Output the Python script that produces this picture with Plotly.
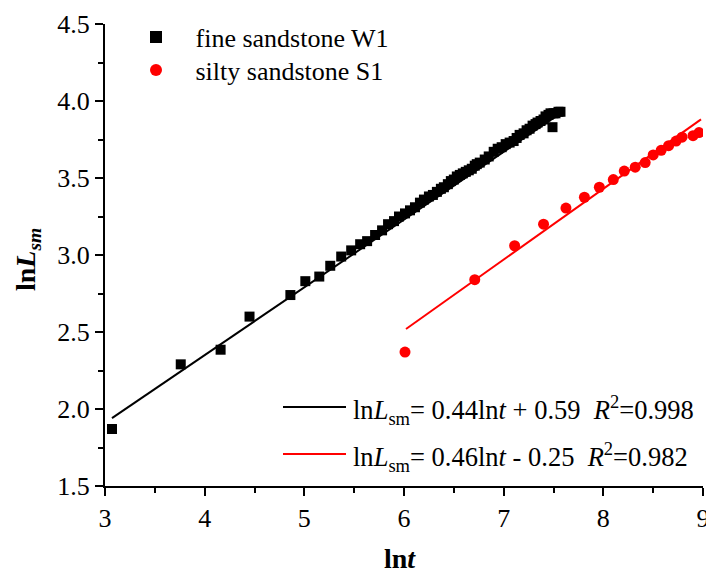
import plotly.graph_objects as go

# ---- data ----
x_w1 = [3.07, 3.76, 4.16, 4.45, 4.86, 5.01, 5.15, 5.26, 5.37, 5.47, 5.56,
        5.63, 5.71, 5.78, 5.84, 5.90, 5.95, 6.01, 6.06, 6.11, 6.16, 6.20,
        6.25, 6.29, 6.33, 6.37, 6.40, 6.44, 6.47, 6.50, 6.53, 6.56, 6.59,
        6.62, 6.65, 6.68, 6.71, 6.73, 6.76, 6.81, 6.85, 6.90, 6.94, 6.98,
        7.02, 7.06, 7.10, 7.13, 7.16, 7.20, 7.23, 7.26, 7.29, 7.32, 7.34,
        7.37, 7.40, 7.42, 7.45, 7.47, 7.49, 7.50, 7.52, 7.55, 7.57]
y_w1 = [1.87, 2.29, 2.385, 2.60, 2.74, 2.83, 2.86, 2.93, 2.99, 3.03, 3.07,
        3.09, 3.13, 3.16, 3.20, 3.22, 3.25, 3.27, 3.29, 3.31, 3.34, 3.36,
        3.38, 3.39, 3.41, 3.43, 3.44, 3.46, 3.48, 3.49, 3.51, 3.52, 3.53,
        3.54, 3.55, 3.56, 3.58, 3.59, 3.60, 3.62, 3.64, 3.67, 3.69, 3.70,
        3.72, 3.73, 3.74, 3.76, 3.78, 3.79, 3.81, 3.82, 3.84, 3.85, 3.86,
        3.87, 3.88, 3.90, 3.91, 3.92, 3.83, 3.92, 3.92, 3.93, 3.93]

x_s1 = [6.01, 6.71, 7.11, 7.40, 7.625, 7.81, 7.96, 8.10, 8.21, 8.32, 8.42,
        8.50, 8.58, 8.655, 8.73, 8.79, 8.90, 8.96]
y_s1 = [2.37, 2.84, 3.06, 3.20, 3.305, 3.375, 3.44, 3.49, 3.545, 3.57, 3.60,
        3.65, 3.68, 3.71, 3.74, 3.765, 3.775, 3.795]

# linear fits: ln L = a * ln t + b
fit_w1 = {"a": 0.44, "b": 0.59, "x": [3.07, 7.55]}
fit_s1 = {"a": 0.46, "b": -0.25, "x": [6.02, 8.98]}

eq_w1 = "ln<i>L</i><sub>sm</sub>= 0.44ln<i>t</i> + 0.59\u00a0\u00a0<i>R</i><sup>2</sup>=0.998"
eq_s1 = "ln<i>L</i><sub>sm</sub>= 0.46ln<i>t</i> - 0.25\u00a0\u00a0<i>R</i><sup>2</sup>=0.982"

x_ticks = [3, 4, 5, 6, 7, 8, 9]
y_ticks = [1.5, 2.0, 2.5, 3.0, 3.5, 4.0, 4.5]

FONT = "Liberation Serif, Times New Roman, serif"

fig = go.Figure()

for fit, col in ((fit_w1, "black"), (fit_s1, "red")):
    fig.add_trace(go.Scatter(
        x=fit["x"], y=[fit["a"] * v + fit["b"] for v in fit["x"]],
        mode="lines", line=dict(color=col, width=2), showlegend=False,
        hoverinfo="skip"))

fig.add_trace(go.Scatter(
    x=x_w1, y=y_w1, mode="markers", name="\u00a0\u00a0\u00a0fine sandstone W1",
    marker=dict(symbol="square", size=10, color="black"), legend="legend"))
fig.add_trace(go.Scatter(
    x=x_s1, y=y_s1, mode="markers", name="\u00a0\u00a0\u00a0silty sandstone S1",
    marker=dict(symbol="circle", size=11, color="red"), legend="legend2"))

tickfont = dict(family=FONT, size=26, color="black")
axis_common = dict(
    showline=True, linecolor="black", linewidth=2, mirror=False,
    ticks="outside", ticklen=8, tickwidth=2, tickcolor="black",
    showgrid=False, zeroline=False, automargin=False,
)

fig.update_xaxes(range=[3, 9], tickvals=x_ticks,
                 ticktext=[str(v) for v in x_ticks], tickfont=tickfont,
                 ticklabeloverflow="allow",
                 minor=dict(dtick=0.5, ticks="outside", ticklen=5,
                            tickwidth=2, tickcolor="black", tick0=3),
                 **axis_common)
fig.update_yaxes(range=[1.5, 4.5], tickvals=y_ticks,
                 ticktext=[f"{v:.1f}" for v in y_ticks], tickfont=tickfont,
                 minor=dict(dtick=0.25, ticks="outside", ticklen=5,
                            tickwidth=2, tickcolor="black", tick0=1.5),
                 **axis_common)

L, R, T, B = 105, 3, 24, 87
W, H = 706, 573
pw, ph = W - L - R, H - T - B

def px(xp):
    return (xp - L) / pw

def py(yp):
    return (H - B - yp) / ph

annotations = [
    dict(text="<b>ln<i>t</i></b>", x=px(400), y=py(558), xref="paper", yref="paper",
         showarrow=False, xanchor="center", yanchor="middle",
         font=dict(family=FONT, size=28, color="black")),
    dict(text="<b>ln<i>L</i><sub><i>sm</i></sub></b>", x=px(27), y=py(260),
         xref="paper", yref="paper", textangle=-90,
         showarrow=False, xanchor="center", yanchor="middle",
         font=dict(family=FONT, size=28, color="black")),
    dict(text=eq_w1, x=px(351), y=py(410), xref="paper", yref="paper",
         showarrow=False, xanchor="left", yanchor="middle",
         font=dict(family=FONT, size=26.5, color="black")),
    dict(text=eq_s1, x=px(351), y=py(457), xref="paper", yref="paper",
         showarrow=False, xanchor="left", yanchor="middle",
         font=dict(family=FONT, size=26.5, color="black")),
]

shapes = [
    dict(type="line", xref="paper", yref="paper", x0=px(283), x1=px(346),
         y0=py(407), y1=py(407), line=dict(color="black", width=2)),
    dict(type="line", xref="paper", yref="paper", x0=px(283), x1=px(346),
         y0=py(454), y1=py(454), line=dict(color="red", width=2)),
]

legend_common = dict(xanchor="left", yanchor="middle",
                     bgcolor="rgba(0,0,0,0)", borderwidth=0,
                     font=dict(family=FONT, size=26, color="black"),
                     itemsizing="constant")

fig.update_layout(
    width=W, height=H,
    margin=dict(l=L, r=R, t=T, b=B, pad=0),
    paper_bgcolor="white", plot_bgcolor="white",
    font=dict(family=FONT, color="black"),
    showlegend=True,
    legend=dict(x=px(136), y=py(37), **legend_common),
    legend2=dict(x=px(136), y=py(70), **legend_common),
    annotations=annotations,
    shapes=shapes,
)

fig.write_html("out.html")
